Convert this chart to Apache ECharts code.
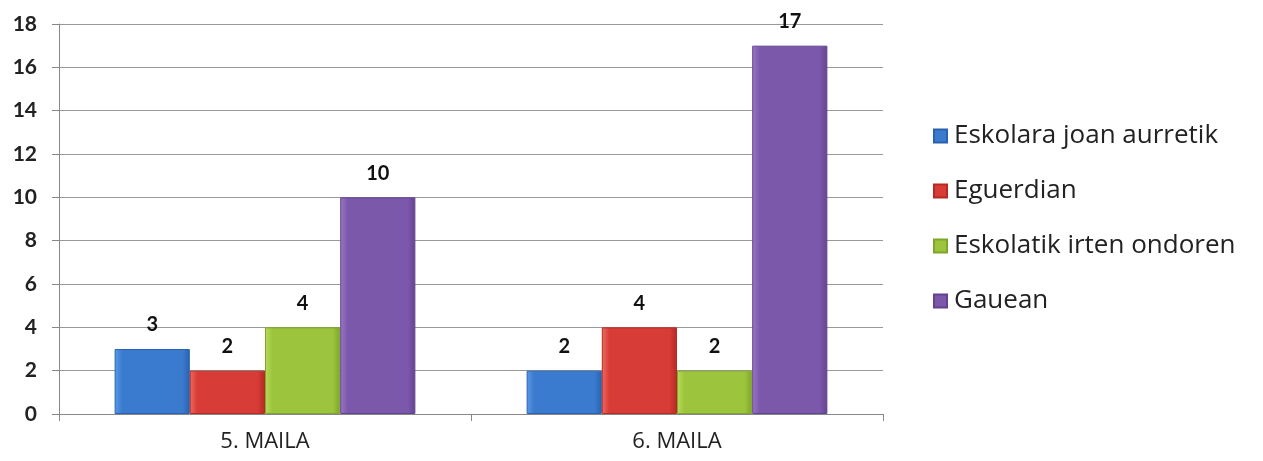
<!DOCTYPE html>
<html><head><meta charset="utf-8">
<script src="https://cdn.jsdelivr.net/npm/echarts@6/dist/echarts.min.js"></script>
<style>html,body{margin:0;padding:0;background:#fff}#c{width:1263px;height:461px}</style>
</head><body><div id="c"></div>
<script>
const categories = ['5. MAILA', '6. MAILA'];
const seriesNames = ['Eskolara joan aurretik', 'Eguerdian', 'Eskolatik irten ondoren', 'Gauean'];
const valsEskolara = [3, 2];
const valsEguerdian = [2, 4];
const valsIrten = [4, 2];
const valsGauean = [10, 17];
const yTicks = [0, 2, 4, 6, 8, 10, 12, 14, 16, 18];

const palette = [
  ['#5c9ae6', '#3a7bd0', '#2a62ad'],
  ['#ee6b63', '#d83c36', '#b52a25'],
  ['#b8dc5a', '#9cc43c', '#7ea62a'],
  ['#9a78c4', '#7c58ab', '#63438f']
];
const seriesData = [valsEskolara, valsEguerdian, valsIrten, valsGauean];
function grad(p){
  return {type:'linear',x:0,y:0,x2:1,y2:0,colorStops:[
    {offset:0,color:p[0]},{offset:0.1,color:p[1]},{offset:0.9,color:p[1]},{offset:1,color:p[2]}]};
}
const chart = echarts.init(document.getElementById('c'));
chart.setOption({
  animation:false,
  grid:{left:59,right:380,top:24,bottom:47},
  legend:{
    orient:'vertical', left:928, top:118, itemGap:29, itemWidth:13, itemHeight:13,
    icon:'rect',
    textStyle:{fontFamily:'Open Sans',fontSize:26,color:'#222',padding:[0,0,0,2]},
    data:seriesNames.map((n,i)=>({name:n,itemStyle:{color:palette[i][1]}}))
  },
  xAxis:{
    type:'category', data:categories,
    axisLine:{lineStyle:{color:'#888'}},
    axisTick:{show:true,length:7,lineStyle:{color:'#888'}},
    axisLabel:{fontFamily:'Open Sans',fontSize:22,color:'#222',margin:17}
  },
  yAxis:{
    type:'value', min:0, max:18, interval:2,
    axisLine:{show:true,lineStyle:{color:'#888'}},
    axisTick:{show:true,length:7,lineStyle:{color:'#888'}},
    splitLine:{lineStyle:{color:'#999',width:1}},
    axisLabel:{fontFamily:'Lato',fontWeight:'bold',fontSize:21,color:'#222',margin:22,
      formatter:v=>yTicks.includes(v)?String(v):''}
  },
  series: seriesNames.map((n,i)=>({
    name:n, type:'bar', data:seriesData[i],
    barGap:'0%', barCategoryGap:'27%',
    itemStyle:{color:grad(palette[i]), borderColor:palette[i][2], borderWidth:1},
    label:{show:true,position:'top',distance:14,fontFamily:'Lato',fontWeight:'bold',fontSize:20,color:'#111'}
  }))
});
</script></body></html>
